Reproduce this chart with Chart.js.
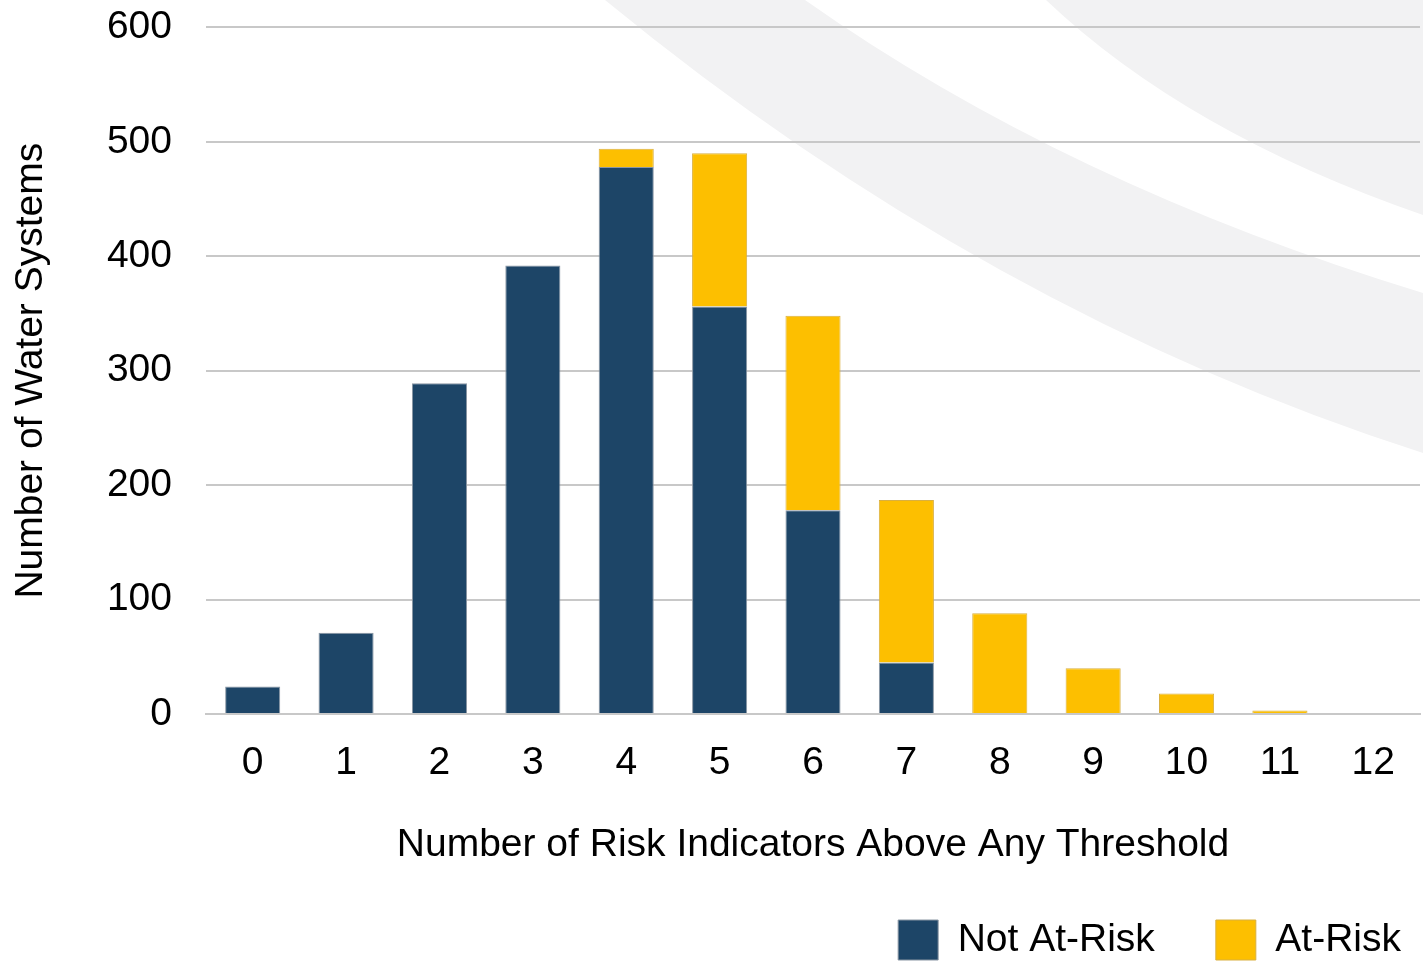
<!DOCTYPE html>
<html>
<head>
<meta charset="utf-8">
<script src="https://cdn.jsdelivr.net/npm/chart.js@4"></script>
<style>
  html, body { margin: 0; padding: 0; background: #fff; overflow: hidden; }
  #wrap { width: 1423px; height: 965px; overflow: hidden; position: relative; }
  #myChart { position: absolute; left: 0; top: -30px; }
</style>
</head>
<body>
<div id="wrap"><canvas id="myChart"></canvas></div>
<script>
const categories = ['0', '1', '2', '3', '4', '5', '6', '7', '8', '9', '10', '11', '12'];
const notAtRisk = [24, 71, 289, 392, 478, 356, 178, 45, 0, 0, 0, 0, 0];
const atRisk = [0, 0, 0, 0, 16, 134, 170, 142, 88, 40, 18, 3, 0];
const yTicks = [0, 100, 200, 300, 400, 500, 600];

const SHIFT = 30; // canvas is pulled up by this much

// light grey swooshes behind the plot
const swooshes = {
    id: 'swooshes',
    beforeDraw(chart) {
        const c = chart.ctx;
        c.save();
        c.translate(0, SHIFT);
        c.fillStyle = '#f2f2f3';
        c.beginPath();
        c.moveTo(605, -SHIFT);
        c.lineTo(605, 0);
        c.quadraticCurveTo(986, 313, 1423, 453);
        c.lineTo(1423, 293);
        c.quadraticCurveTo(1066, 184, 805, 0);
        c.lineTo(805, -SHIFT);
        c.closePath();
        c.fill();
        c.beginPath();
        c.moveTo(1046, -SHIFT);
        c.lineTo(1046, 0);
        c.quadraticCurveTo(1186, 133, 1423, 215);
        c.lineTo(1423, -SHIFT);
        c.closePath();
        c.fill();
        c.restore();
    }
};

// push the legend row to the right edge
const legendNudge = {
    id: 'legendNudge',
    afterLayout(chart) {
        chart.legend.left += 42;
        chart.legend.right += 42;
    }
};

const data = {
    labels: categories,
    datasets: [{
        label: 'Not At-Risk',
        data: notAtRisk,
        backgroundColor: '#1d4567',
        borderColor: '#8a96a3',
        borderWidth: 1
    }, {
        label: 'At-Risk',
        data: atRisk,
        backgroundColor: '#fdbf00',
        borderColor: '#d9b040',
        borderWidth: 1
    }]
};

const config = {
    type: 'bar',
    data: data,
    plugins: [swooshes, legendNudge],
    options: {
        responsive: false,
        animation: false,
        barPercentage: 0.59,
        categoryPercentage: 1,
        layout: {
            padding: { top: 8, right: 3, left: 8, bottom: -5 }
        },
        plugins: {
            legend: {
                position: 'bottom',
                align: 'end',
                labels: {
                    color: '#000',
                    boxWidth: 40,
                    boxHeight: 40,
                    padding: 61,
                    font: { size: 39, family: '"Liberation Sans", Arial' }
                }
            },
            tooltip: { enabled: false }
        },
        scales: {
            x: {
                stacked: true,
                grid: { display: false },
                border: { color: '#c8c8c8', width: 2 },
                ticks: {
                    color: '#000',
                    padding: 18,
                    font: { size: 39, family: '"Liberation Sans", Arial' }
                },
                title: {
                    display: true,
                    text: 'Number of Risk Indicators Above Any Threshold',
                    color: '#000',
                    padding: { top: 18, bottom: -10 },
                    font: { size: 39, family: '"Liberation Sans", Arial' }
                },
                afterFit(scale) {
                    scale.height = 145;
                }
            },
            y: {
                stacked: true,
                min: 0,
                max: 600,
                afterBuildTicks(scale) {
                    scale.ticks = yTicks.map(v => ({ value: v }));
                },
                afterFit(scale) {
                    scale.width = 198;
                },
                grid: { color: '#c8c8c8', lineWidth: 2, drawTicks: false },
                border: { display: false },
                ticks: {
                    color: '#000',
                    padding: 34,
                    font: { size: 39, family: '"Liberation Sans", Arial' }
                },
                title: {
                    display: true,
                    text: 'Number of Water Systems',
                    color: '#000',
                    padding: 0,
                    font: { size: 39, family: '"Liberation Sans", Arial' }
                }
            }
        }
    }
};

const ctx = document.getElementById('myChart');
ctx.width = 1423;
ctx.height = 965 + SHIFT;
const chart = new Chart(ctx, config);
</script>
</body>
</html>
